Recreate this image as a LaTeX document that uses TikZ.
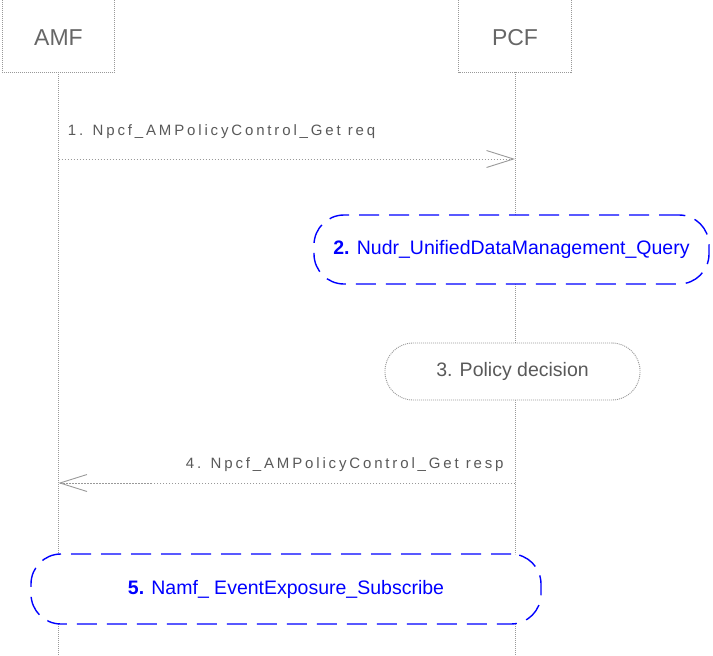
\documentclass[tikz,border=0pt]{standalone}
\usepackage{fontspec}
\setmainfont{Liberation Sans}
\newfontfamily\msgfont[LetterSpace=19]{Liberation Sans}
\usetikzlibrary{arrows.meta}

\tikzset{
  lifeline/.style={gray!80, line width=0.9pt, dash pattern=on 1pt off 1pt},
  entity/.style={minimum width=112pt, minimum height=68pt, inner sep=0pt, text=black!60, font=\fontsize{23}{26}\selectfont},
  msg/.style={gray!80, line width=0.9pt, dash pattern=on 1.5pt off 1.5pt, -{Straight Barb[length=27pt, width=17pt]}},
  msglabel/.style={text=black!65, font=\msgfont\fontsize{15}{17}\selectfont, inner sep=0pt},
  action/.style={draw=gray!80, line width=0.9pt, dash pattern=on 1pt off 1pt, fill=white, rounded corners=28pt, text=black!65, font=\fontsize{19.5}{22}\selectfont},
  remote/.style={draw=blue, line width=1.4pt, dash pattern=on 20pt off 10pt, fill=white, rounded corners=30pt, text=blue, font=\fontsize{19.5}{22}\selectfont},
}

\begin{document}
\begin{tikzpicture}[x=1pt, y=-1pt]
  \useasboundingbox (0,0) rectangle (713,656);
  \clip (0,0) rectangle (713,656);
  % entities
  \node[entity] (amf) at (58.5,38) {AMF};
  \node[entity] (pcf) at (515,38) {PCF};
  \draw[lifeline] ([yshift=6pt]amf.north west) -- (amf.south west) -- (amf.south east) -- ([yshift=6pt]amf.north east);
  \draw[lifeline] ([yshift=6pt]pcf.north west) -- (pcf.south west) -- (pcf.south east) -- ([yshift=6pt]pcf.north east);
  % lifelines
  \coordinate (amfend) at (58.5,656);
  \coordinate (pcfend) at (515,656);
  \draw[lifeline] (amf.south) -- (amfend);
  \draw[lifeline] (pcf.south) -- (pcfend);
  % messages
  \coordinate (m1a) at (58.5,159); \coordinate (m1b) at (515,159);
  \draw[msg] (m1a) -- (m1b) node[msglabel, pos=0, anchor=base west, xshift=9pt, yshift=24pt] {1. Npcf\_AMPolicyControl\_Get req};
  \node[remote, minimum width=395pt, minimum height=69pt] (udr) at (511.5,249.5) {\textbf{2.} Nudr\_UnifiedDataManagement\_Query};
  \node[action, minimum width=255pt, minimum height=57pt] (decision) at (512.5,371.5) {3. Policy decision};
  \coordinate (m4a) at (515,483); \coordinate (m4b) at (58.5,483);
  \draw[msg] (m4a) -- (m4b) node[msglabel, pos=0, anchor=base east, xshift=-11pt, yshift=15pt] {4. Npcf\_AMPolicyControl\_Get resp};
  \node[remote, minimum width=510pt, minimum height=70pt] (subscribe) at (286,589) {\textbf{5.} Namf\_ EventExposure\_Subscribe};
\end{tikzpicture}
\end{document}
